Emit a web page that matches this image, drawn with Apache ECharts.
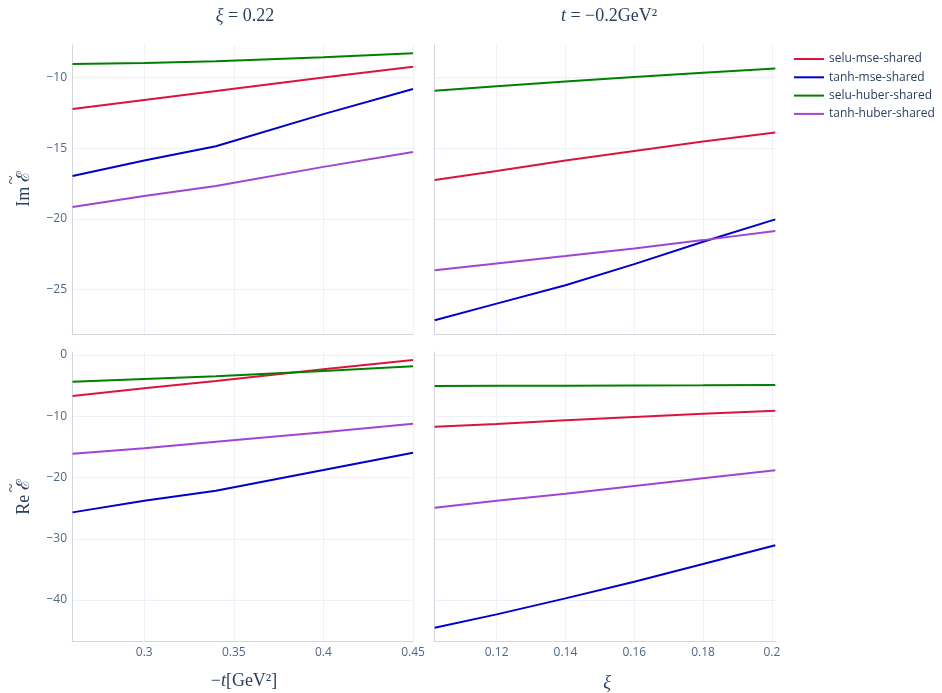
<!DOCTYPE html>
<html>
<head>
<meta charset="utf-8">
<script src="https://cdn.jsdelivr.net/npm/echarts@6/dist/echarts.min.js"></script>
<style>
  html, body { margin: 0; padding: 0; background: #ffffff; }
  #chart { width: 942px; height: 693px; }
</style>
</head>
<body>
<div id="chart"></div>
<script>
// Model variants
const seriesNames = ['selu-mse-shared', 'tanh-mse-shared', 'selu-huber-shared', 'tanh-huber-shared'];
const seriesColors = ['#dc143c', '#0000cd', '#008000', '#a044d4'];

// Abscissae: -t [GeV^2] at fixed xi, and xi at fixed t
const tValues = [0.26, 0.30, 0.34, 0.40, 0.45];
const xiValues = [0.102, 0.12, 0.14, 0.16, 0.18, 0.201];

// Im E~ versus -t (xi = 0.22)
const imVsT_seluMse = [-12.22, -11.58, -10.95, -9.99, -9.22];
const imVsT_tanhMse = [-16.95, -15.86, -14.85, -12.58, -10.80];
const imVsT_seluHuber = [-9.03, -8.96, -8.84, -8.56, -8.27];
const imVsT_tanhHuber = [-19.15, -18.37, -17.66, -16.31, -15.25];

// Im E~ versus xi (t = -0.2 GeV^2)
const imVsXi_seluMse = [-17.23, -16.60, -15.86, -15.18, -14.52, -13.88];
const imVsXi_tanhMse = [-27.16, -25.98, -24.68, -23.19, -21.61, -20.02];
const imVsXi_seluHuber = [-10.92, -10.61, -10.28, -9.95, -9.65, -9.36];
const imVsXi_tanhHuber = [-23.62, -23.14, -22.62, -22.08, -21.49, -20.85];

// Re E~ versus -t (xi = 0.22)
const reVsT_seluMse = [-6.69, -5.44, -4.24, -2.34, -0.82];
const reVsT_tanhMse = [-25.69, -23.78, -22.15, -18.78, -15.95];
const reVsT_seluHuber = [-4.35, -3.92, -3.48, -2.61, -1.85];
const reVsT_tanhHuber = [-16.11, -15.24, -14.15, -12.63, -11.21];

// Re E~ versus xi (t = -0.2 GeV^2)
const reVsXi_seluMse = [-11.70, -11.27, -10.67, -10.12, -9.58, -9.09];
const reVsXi_tanhMse = [-44.52, -42.34, -39.73, -37.01, -34.12, -31.07];
const reVsXi_seluHuber = [-5.06, -5.03, -5.01, -4.98, -4.95, -4.90];
const reVsXi_tanhHuber = [-24.93, -23.78, -22.64, -21.39, -20.14, -18.83];

// Tick labels
const tTicks = [0.3, 0.35, 0.4, 0.45];
const xiTicks = [0.12, 0.14, 0.16, 0.18, 0.2];
const imTicks = [-25, -20, -15, -10];
const reTicks = [-40, -30, -20, -10, 0];

const panels = [
  { x: tValues,  sets: [imVsT_seluMse, imVsT_tanhMse, imVsT_seluHuber, imVsT_tanhHuber] },
  { x: xiValues, sets: [imVsXi_seluMse, imVsXi_tanhMse, imVsXi_seluHuber, imVsXi_tanhHuber] },
  { x: tValues,  sets: [reVsT_seluMse, reVsT_tanhMse, reVsT_seluHuber, reVsT_tanhHuber] },
  { x: xiValues, sets: [reVsXi_seluMse, reVsXi_tanhMse, reVsXi_seluHuber, reVsXi_tanhHuber] }
];

const tickColor = '#506784';
const axisLineColor = '#d2d5dc';
const gridLineColor = '#eef1f7';
const tickFont = 'Open Sans';
const mathFont = 'Liberation Serif';
const minus = v => (v < 0 ? '\u2212' + Math.abs(v) : String(v));

const grids = [
  { left: 72,  top: 45,  width: 341, height: 289 },
  { left: 434, top: 45,  width: 342, height: 289 },
  { left: 72,  top: 352, width: 341, height: 289 },
  { left: 434, top: 352, width: 342, height: 289 }
].map(g => Object.assign({ containLabel: false, outerBoundsMode: 'none', show: false }, g));

function makeX(i, ticks, min, max, showLabels) {
  return {
    type: 'value', gridIndex: i, min: min, max: max,
    axisLine: { show: true, onZero: false, lineStyle: { color: axisLineColor, width: 1 } },
    axisTick: { show: false, customValues: ticks },
    axisLabel: { show: showLabels, customValues: ticks, margin: 6, color: tickColor,
                 fontFamily: tickFont, fontSize: 12, formatter: v => minus(v) },
    splitLine: { show: true, lineStyle: { color: gridLineColor, width: 1 } }
  };
}
function makeY(i, ticks, min, max, showLabels) {
  return {
    type: 'value', gridIndex: i, min: min, max: max,
    axisLine: { show: true, onZero: false, lineStyle: { color: axisLineColor, width: 1 } },
    axisTick: { show: false, customValues: ticks },
    axisLabel: { show: showLabels, customValues: ticks, margin: 5, color: tickColor,
                 fontFamily: tickFont, fontSize: 12, formatter: v => minus(v) },
    splitLine: { show: true, lineStyle: { color: gridLineColor, width: 1 } }
  };
}

const xAxes = [
  makeX(0, tTicks, 0.2597, 0.45, false),
  makeX(1, xiTicks, 0.1018, 0.2012, false),
  makeX(2, tTicks, 0.2597, 0.45, true),
  makeX(3, xiTicks, 0.1018, 0.2012, true)
];
const yAxes = [
  makeY(0, imTicks, -28.13, -7.69, true),
  makeY(1, imTicks, -28.13, -7.69, false),
  makeY(2, reTicks, -46.69, 0.49, true),
  makeY(3, reTicks, -46.69, 0.49, false)
];

const series = [];
panels.forEach((p, pi) => {
  p.sets.forEach((vals, si) => {
    series.push({
      type: 'line', name: seriesNames[si],
      xAxisIndex: pi, yAxisIndex: pi,
      data: p.x.map((xv, k) => [xv, vals[k]]),
      symbol: 'none', showSymbol: false, smooth: false,
      lineStyle: { color: seriesColors[si], width: 2 },
      itemStyle: { color: seriesColors[si] },
      emphasis: { disabled: true },
      z: 2 + si
    });
  });
});

const titleColor = '#2a3f5f';
function mathText(x, y, text, rich) {
  return {
    type: 'text', x: x, y: y,
    style: {
      text: text, align: 'center', verticalAlign: 'middle',
      fontFamily: mathFont, fontSize: 18, fill: titleColor, rich: rich
    }
  };
}
const richMath = {
  i: { fontFamily: mathFont, fontSize: 18, fontStyle: 'italic', fill: titleColor },
  n: { fontFamily: mathFont, fontSize: 18, fill: titleColor }
};

// Rotated axis title "Im/Re E~" with a wide tilde drawn over the script E
function partTitle(x, y, prefix) {
  return {
    type: 'group', x: x, y: y, rotation: Math.PI / 2,
    children: [
      { type: 'text', x: 0, y: 0,
        style: { text: prefix + ' ℰ', align: 'center', verticalAlign: 'middle',
                 fontFamily: mathFont, fontSize: 18, fill: titleColor } },
      { type: 'text', x: 9, y: -12,
        style: { text: '~', align: 'center', verticalAlign: 'middle',
                 fontFamily: mathFont, fontSize: 16, fill: titleColor } }
    ]
  };
}

const chart = echarts.init(document.getElementById('chart'), null, { renderer: 'canvas' });
chart.setOption({
  backgroundColor: '#ffffff',
  animation: false,
  grid: grids,
  xAxis: xAxes,
  yAxis: yAxes,
  series: series,
  legend: {
    data: seriesNames,
    orient: 'vertical',
    left: 794, top: 50, padding: 0,
    itemWidth: 30, itemHeight: 2, itemGap: 0.3,
    icon: 'rect',
    textStyle: { fontFamily: tickFont, fontSize: 12, color: titleColor, lineHeight: 18 },
    selectedMode: false
  },
  graphic: [
    mathText(245, 16, '{i|ξ}{n| = 0.22}', richMath),
    mathText(609, 16, '{i|t}{n| = \u22120.2GeV²}', richMath),
    mathText(244, 681, '{n|\u2212}{i|t}{n|[GeV²]}', richMath),
    mathText(607, 683, '{i|ξ}', richMath),
    partTitle(24, 189, 'Im'),
    partTitle(24, 497, 'Re')
  ]
});
</script>
</body>
</html>
